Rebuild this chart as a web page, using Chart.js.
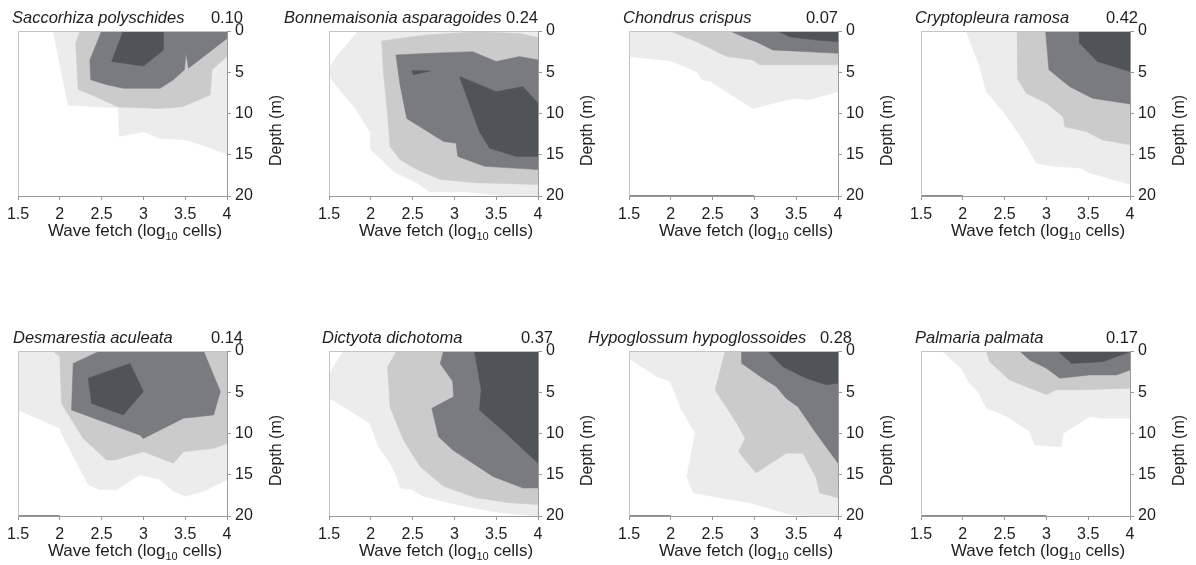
<!DOCTYPE html>
<html>
<head>
<meta charset="utf-8">
<script src="https://cdn.jsdelivr.net/npm/chart.js@4.4.0/dist/chart.umd.min.js"></script>
<style>
  html, body { margin: 0; padding: 0; background: #fff; }
  #page { position: relative; width: 1196px; height: 565px; overflow: hidden; }
  #page canvas { position: absolute; }
</style>
</head>
<body>
<div id="page"></div>
<script>
const species = [
  'Saccorhiza polyschides', 'Bonnemaisonia asparagoides', 'Chondrus crispus', 'Cryptopleura ramosa',
  'Desmarestia aculeata', 'Dictyota dichotoma', 'Hypoglossum hypoglossoides', 'Palmaria palmata'
]
const scores = ['0.10', '0.24', '0.07', '0.42', '0.14', '0.37', '0.28', '0.17']
const fetchTicks = [1.5, 2, 2.5, 3, 3.5, 4]
const depthTicks = [0, 5, 10, 15, 20]

// contour bands as outlines of [log10 fetch, depth], lightest band first
const sac1 = [[1.92, 0], [2.1, 9], [2.7, 9.3], [2.71, 12.8], [3.0, 12.2], [3.2, 13], [3.52, 13.2], [4, 14.9], [4, 0]]
const sac2 = [[2.24, 0], [2.19, 1.5], [2.22, 7.1], [2.38, 7.75], [2.7, 9.2], [3.2, 9.4], [3.46, 9.2], [3.8, 7.75], [3.82, 4.7], [4, 3.1], [4, 0]]
const sac3 = [[2.5, 0], [2.36, 3.5], [2.37, 5.9], [2.56, 6.5], [2.76, 6.95], [3.2, 6.95], [3.36, 5.9], [3.49, 4.7], [3.51, 2.7], [3.54, 4.5], [4, 0.9], [4, 0]]
const sac4 = [[2.76, 0], [2.62, 3.7], [3.0, 4.25], [3.24, 2.3], [3.24, 0]]

const bon1 = [[1.85, 0], [1.59, 3.1], [1.5, 4.5], [1.53, 5.9], [1.83, 9.6], [2, 12.4], [2, 14.4], [2.27, 17], [2.55, 18.4], [2.7, 19.5], [3.14, 19.5], [3.62, 20], [4, 20], [4, 0]]
const bon2 = [[2.13, 1.2], [2.15, 5], [2.2, 10], [2.23, 14], [2.35, 15.6], [2.55, 16.8], [2.83, 18], [3.26, 18.4], [4, 18.6], [4, 0.8], [3.78, 0.3], [3.26, 0.1], [2.94, 0.3], [2.63, 0.5]]
const bon3 = [[2.3, 2.9], [2.35, 6.5], [2.43, 10.6], [2.87, 13.4], [3.02, 13.6], [3.04, 15.2], [3.36, 16.4], [4, 16.8], [4, 3.5], [3.78, 3.1], [3.5, 3.7], [3.22, 2.5], [2.71, 2.7]]
const bon4 = [[3.06, 5.5], [3.3, 12.2], [3.42, 14.2], [3.74, 15.2], [4, 15.2], [4, 8.75], [3.82, 6.75], [3.5, 7.35]]
const bon4b = [[2.49, 4.8], [2.51, 5.3], [2.71, 4.85]]

const cho1 = [[1.5, 0], [1.5, 3.1], [1.99, 3.6], [2.31, 4.9], [2.37, 5.9], [2.47, 6.1], [2.98, 9.4], [3.38, 8.35], [3.5, 8.15], [3.64, 8.35], [4, 7.35], [4, 0]]
const cho2 = [[1.99, 0], [2.31, 1.3], [2.67, 3.1], [2.98, 3.5], [3.06, 4.1], [4, 4.1], [4, 0]]
const cho3 = [[2.71, 0], [2.91, 0.9], [3.02, 1.3], [3.22, 2.3], [4, 2.7], [4, 0]]
const cho4 = [[3.28, 0], [3.42, 0.7], [3.74, 1.1], [4, 1.3], [4, 0]]

const cry1 = [[2.04, 0], [2.2, 4.3], [2.28, 7.35], [2.5, 10], [2.72, 13.2], [2.88, 16], [3.08, 16.4], [3.4, 16.6], [3.52, 17.2], [4, 18.6], [4, 0]]
const cry2 = [[2.65, 0], [2.66, 5.9], [2.76, 7.55], [3.0, 8.75], [3.2, 10.4], [3.22, 11.6], [3.3, 11.8], [3.48, 12.2], [3.67, 13.2], [4, 13.8], [4, 0]]
const cry3 = [[2.99, 0], [3.03, 4.7], [3.28, 6.75], [3.55, 8.15], [4, 8.85], [4, 0]]
const cry4 = [[3.39, 0], [3.4, 1.5], [3.61, 3.7], [4, 4.9], [4, 0]]

const des1 = [[1.5, 0], [1.5, 7.15], [2.0, 9.35], [2.02, 10], [2.34, 16.2], [2.48, 16.8], [2.68, 16.8], [2.96, 15], [3.2, 15.6], [3.36, 17], [3.5, 17.6], [3.72, 17], [4, 15.6], [4, 0]]
const des2 = [[1.92, 0], [2.0, 0.7], [2.02, 6.35], [2.28, 10.6], [2.56, 13.2], [2.66, 13.2], [3.0, 12.2], [3.36, 13.6], [3.48, 12.2], [3.84, 11.8], [4, 11.2], [4, 0]]
const des3 = [[2.48, 0], [2.16, 1.5], [2.14, 7.15], [2.96, 10.2], [3.0, 10.6], [3.48, 8.15], [3.84, 7.75], [3.92, 4.9], [3.72, 0]]
const des4 = [[2.34, 3.3], [2.38, 6.35], [2.76, 7.75], [3.0, 4.9], [2.84, 1.5]]

const dic1 = [[1.67, 0], [1.53, 2.3], [1.5, 3.1], [1.5, 5.7], [1.99, 8.75], [2.09, 11.6], [2.23, 13.6], [2.31, 15.2], [2.35, 16.6], [2.49, 16.8], [2.63, 17.6], [3.02, 18.6], [3.42, 19.4], [3.74, 19.8], [4, 20], [4, 0]]
const dic2 = [[2.31, 0], [2.2, 1.9], [2.23, 6.75], [2.39, 10.8], [2.59, 14], [2.87, 16.4], [3.26, 17.8], [3.66, 18.4], [4, 18.6], [4, 0]]
const dic3 = [[2.87, 0], [2.83, 1.5], [2.98, 3.7], [2.99, 5.55], [2.73, 6.95], [2.81, 10.4], [2.98, 12], [3.22, 13.6], [3.46, 15.2], [3.82, 16.6], [4, 16.6], [4, 0]]
const dic4 = [[3.24, 0], [3.32, 4.7], [3.3, 7.15], [3.62, 10], [4, 13.6], [4, 0]]

const hyp1 = [[1.5, 0], [1.5, 0.9], [1.83, 3.1], [1.99, 3.7], [2.13, 7.15], [2.29, 10], [2.19, 15.2], [2.27, 17.2], [2.59, 17.8], [2.95, 18.4], [3.42, 19.8], [3.62, 20], [4, 20], [4, 0]]
const hyp2 = [[2.65, 0], [2.53, 4.75], [2.79, 8.75], [2.89, 10.6], [2.81, 12.2], [3.02, 14.8], [3.38, 12.4], [3.58, 12.4], [3.74, 15.4], [3.78, 17.2], [4, 17.8], [4, 0]]
const hyp3 = [[2.85, 0], [2.85, 1.5], [3.1, 3.3], [3.26, 4.3], [3.38, 5.75], [3.52, 6.75], [3.74, 10], [4, 13.6], [4, 0]]
const hyp4 = [[3.16, 0], [3.34, 1.9], [3.62, 3.3], [3.86, 4.1], [4, 3.9], [4, 0]]

const pal1 = [[1.75, 0], [1.98, 2.1], [2.08, 3.9], [2.18, 4.9], [2.28, 6.9], [2.52, 7.9], [2.8, 9.75], [2.86, 11.4], [3.18, 11.6], [3.2, 10], [3.52, 7.95], [3.67, 8.15], [4, 8.15], [4, 0]]
const pal2 = [[2.28, 0], [2.32, 1.3], [2.56, 3.5], [3.0, 5.3], [3.12, 4.7], [3.44, 4.7], [4, 4.5], [4, 0]]
const pal3 = [[2.68, 0], [2.8, 1.1], [3.0, 2.1], [3.16, 3.3], [3.52, 2.9], [3.84, 2.9], [4, 2.3], [4, 0]]
const pal4 = [[3.14, 0], [3.3, 1.5], [3.67, 1.3], [4, 0.1], [4, 0]]

// fetch range of the dark strip along the 20 m line
const bottomEdge = [null, null, [1.5, 3], [1.5, 2], [1.5, 2], null, [1.5, 2], [1.5, 3]]

const bands = [
  [[sac1], [sac2], [sac3], [sac4]],
  [[bon1], [bon2], [bon3], [bon4, bon4b]],
  [[cho1], [cho2], [cho3], [cho4]],
  [[cry1], [cry2], [cry3], [cry4]],
  [[des1], [des2], [des3], [des4]],
  [[dic1], [dic2], [dic3], [dic4]],
  [[hyp1], [hyp2], [hyp3], [hyp4]],
  [[pal1], [pal2], [pal3], [pal4]]
]

// layout
const shades = ['#ececec', '#cbcbcb', '#7a7b7f', '#505357']
const FONT = '"Liberation Sans", Arial, sans-serif'
const TEXT = '#1e1e1e'
const AXIS = '#9a9a9a'
const plotLeft = [18, 329, 629, 921]
const plotTop = [31, 351]
const plotW = 209
const plotH = 165
const padL = 55
const padT = 31
const axisW = 70
const axisH = 45
const nameDx = [-6, -45, -6, -6, -5, -7, -41, -6]
const scoreDx = [16, 0, 0, 8, 16, 15, 14, 8]

const panelText = {
  id: 'panelText',
  afterDraw (chart, args, opts) {
    const { ctx, chartArea: a } = chart
    ctx.save()
    ctx.strokeStyle = '#c4c4c4'
    ctx.lineWidth = 1
    ctx.beginPath()
    ctx.moveTo(a.left + 0.5, a.bottom)
    ctx.lineTo(a.left + 0.5, a.top + 0.5)
    ctx.lineTo(a.right, a.top + 0.5)
    ctx.stroke()

    ctx.fillStyle = TEXT
    ctx.textBaseline = 'alphabetic'
    ctx.font = 'italic 16.5px ' + FONT
    ctx.textAlign = 'left'
    ctx.fillText(opts.name, a.left + opts.nameDx, a.top - 8)
    ctx.font = '16.5px ' + FONT
    ctx.textAlign = 'right'
    ctx.fillText(opts.score, a.right + opts.scoreDx, a.top - 8)

    // Wave fetch (log10 cells), with the 10 lowered
    const parts = [['Wave fetch (log', 17, 0], ['10', 11, 4], [' cells)', 17, 0]]
    let w = 0
    parts.forEach(p => { ctx.font = p[1] + 'px ' + FONT; w += ctx.measureText(p[0]).width })
    let x = (a.left + a.right) / 2 + 12.5 - w / 2
    const y = a.bottom + 40
    ctx.textAlign = 'left'
    parts.forEach(p => {
      ctx.font = p[1] + 'px ' + FONT
      ctx.fillText(p[0], x, y + p[2])
      x += ctx.measureText(p[0]).width
    })

    ctx.translate(a.right + 50, (a.top + a.bottom) / 2 + 17)
    ctx.rotate(-Math.PI / 2)
    ctx.font = '16px ' + FONT
    ctx.textAlign = 'center'
    ctx.textBaseline = 'middle'
    ctx.fillText('Depth (m)', 0, 0)
    ctx.restore()
  }
}

const page = document.getElementById('page')

species.forEach((name, i) => {
  const L = plotLeft[i % 4]
  const T = plotTop[Math.floor(i / 4)]
  const canvas = document.createElement('canvas')
  canvas.width = padL + plotW + axisW
  canvas.height = padT + plotH + axisH
  canvas.style.left = (L - padL) + 'px'
  canvas.style.top = (T - padT) + 'px'
  page.appendChild(canvas)

  const datasets = []
  bands[i].forEach((polys, level) => {
    polys.forEach(poly => {
      const pts = poly.concat([poly[0]]).map(([x, y]) => ({ x, y }))
      datasets.push({
        data: pts,
        showLine: true,
        fill: 'shape',
        backgroundColor: shades[level],
        borderColor: shades[level],
        borderWidth: 0.5,
        pointRadius: 0,
        order: 10 - level
      })
    })
  })
  if (bottomEdge[i]) {
    datasets.push({
      data: bottomEdge[i].map(x => ({ x, y: 20 })),
      showLine: true,
      fill: false,
      borderColor: '#8a8a8a',
      borderWidth: 2,
      pointRadius: 0,
      order: 0
    })
  }

  const tickFont = { family: FONT, size: 16 }
  new Chart(canvas, {
    type: 'scatter',
    data: { datasets },
    options: {
      responsive: false,
      animation: false,
      events: [],
      layout: { padding: { left: padL, top: padT, right: 0, bottom: 0 } },
      plugins: {
        legend: { display: false },
        tooltip: { enabled: false },
        panelText: { name, score: scores[i], nameDx: nameDx[i], scoreDx: scoreDx[i] }
      },
      scales: {
        x: {
          type: 'linear',
          position: 'bottom',
          min: fetchTicks[0],
          max: fetchTicks[fetchTicks.length - 1],
          afterBuildTicks: s => { s.ticks = fetchTicks.map(value => ({ value })) },
          afterFit: s => { s.height = axisH },
          grid: { drawOnChartArea: false, tickLength: 4, color: AXIS },
          border: { color: AXIS },
          ticks: { font: tickFont, color: TEXT, padding: 5, maxRotation: 0, autoSkip: false, callback: v => String(v) }
        },
        y: {
          type: 'linear',
          position: 'right',
          reverse: true,
          min: depthTicks[0],
          max: depthTicks[depthTicks.length - 1],
          afterBuildTicks: s => { s.ticks = depthTicks.map(value => ({ value })) },
          afterFit: s => { s.width = axisW },
          grid: { drawOnChartArea: false, tickLength: 4, color: AXIS },
          border: { color: AXIS },
          ticks: { font: tickFont, color: TEXT, padding: 4, callback: v => String(v) }
        }
      }
    },
    plugins: [panelText]
  })
})
</script>
</body>
</html>
